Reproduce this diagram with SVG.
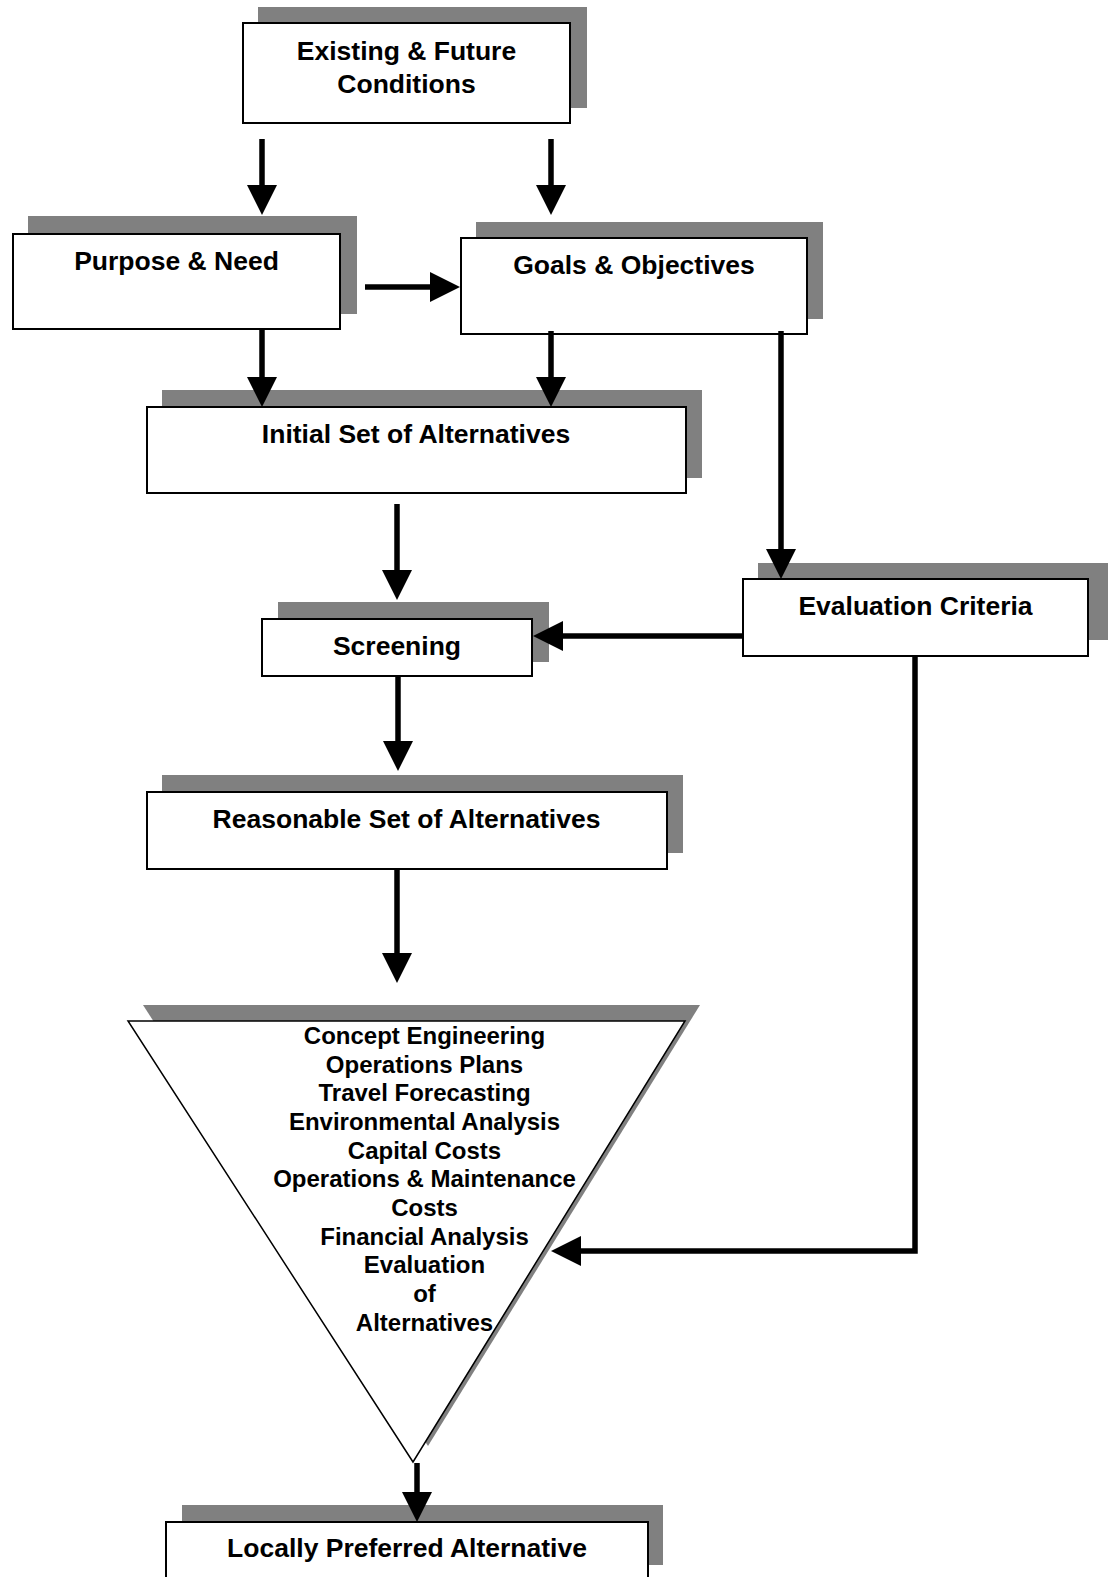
<svg xmlns="http://www.w3.org/2000/svg" width="1108" height="1577" viewBox="0 0 1108 1577">
<style>
.sh{fill:#808080;stroke:none}
.bx{fill:#fff;stroke:#000;stroke-width:2}
.tri{fill:#fff;stroke:#000;stroke-width:1.5}
.lb{font-family:"Liberation Sans",Arial,Helvetica,sans-serif;font-weight:bold;font-size:26.5px;fill:#000;text-anchor:middle}
.tl{font-family:"Liberation Sans",Arial,Helvetica,sans-serif;font-weight:bold;font-size:24px;fill:#000;text-anchor:middle}
.cn{fill:none;stroke:#000;stroke-width:5.5;stroke-linejoin:miter;marker-end:url(#ah)}
</style>
<defs>
<marker id="ah" markerUnits="userSpaceOnUse" markerWidth="31" markerHeight="31" refX="0" refY="15" orient="auto" viewBox="0 0 31 31" overflow="visible">
<path d="M0,0 L30,15 L0,30 Z" fill="#000"/>
</marker>
</defs>
<rect width="1108" height="1577" fill="#fff"/>

<g id="node-existing">
<rect class="sh" x="258" y="7" width="329" height="101"/>
<rect class="bx" x="243" y="23" width="327" height="100"/>
<text class="lb" x="406.5" y="60">Existing &amp; Future</text>
<text class="lb" x="406.5" y="93">Conditions</text>
</g>

<g id="node-purpose">
<rect class="sh" x="28" y="216" width="329" height="98"/>
<rect class="bx" x="13" y="234" width="327" height="95"/>
<text class="lb" x="176.5" y="270">Purpose &amp; Need</text>
</g>

<g id="node-goals">
<rect class="sh" x="476" y="222" width="347" height="97"/>
<rect class="bx" x="461" y="238" width="346" height="96"/>
<text class="lb" x="634" y="274">Goals &amp; Objectives</text>
</g>

<g id="node-initial">
<rect class="sh" x="162" y="390" width="540" height="88"/>
<rect class="bx" x="147" y="407" width="539" height="86"/>
<text class="lb" x="416" y="443">Initial Set of Alternatives</text>
</g>

<g id="node-screening">
<rect class="sh" x="278" y="602" width="271" height="60"/>
<rect class="bx" x="262" y="619" width="270" height="57"/>
<text class="lb" x="397" y="655">Screening</text>
</g>

<g id="node-evaluation">
<rect class="sh" x="758" y="563" width="350" height="77"/>
<rect class="bx" x="743" y="579" width="345" height="77"/>
<text class="lb" x="915.5" y="615">Evaluation Criteria</text>
</g>

<g id="node-reasonable">
<rect class="sh" x="162" y="775" width="521" height="78"/>
<rect class="bx" x="147" y="792" width="520" height="77"/>
<text class="lb" x="406.5" y="828">Reasonable Set of Alternatives</text>
</g>

<g id="node-analysis">
<polygon class="sh" points="143,1005 700,1005 428,1446"/>
<polygon class="tri" points="128,1021 685,1021 413,1462"/>
<text class="tl" x="424.5" y="1044">Concept Engineering</text>
<text class="tl" x="424.5" y="1072.7">Operations Plans</text>
<text class="tl" x="424.5" y="1101.3">Travel Forecasting</text>
<text class="tl" x="424.5" y="1130">Environmental Analysis</text>
<text class="tl" x="424.5" y="1158.6">Capital Costs</text>
<text class="tl" x="424.5" y="1187.3">Operations &amp; Maintenance</text>
<text class="tl" x="424.5" y="1215.9">Costs</text>
<text class="tl" x="424.5" y="1244.6">Financial Analysis</text>
<text class="tl" x="424.5" y="1273.2">Evaluation</text>
<text class="tl" x="424.5" y="1301.9">of</text>
<text class="tl" x="424.5" y="1330.5">Alternatives</text>
</g>

<g id="node-locally">
<rect class="sh" x="182" y="1505" width="481" height="60"/>
<rect class="bx" x="166" y="1522" width="482" height="70"/>
<text class="lb" x="407" y="1557">Locally Preferred Alternative</text>
</g>

<g id="connectors">
<path class="cn" d="M262,139 V185"/>
<path class="cn" d="M551,139 V185"/>
<path class="cn" d="M365,287 H430"/>
<path class="cn" d="M262,330 V377"/>
<path class="cn" d="M551,331 V377"/>
<path class="cn" d="M781,331 V549"/>
<path class="cn" d="M397,504 V570"/>
<path class="cn" d="M742,636 H563"/>
<path class="cn" d="M398,676 V741"/>
<path class="cn" d="M397,869 V953"/>
<path class="cn" d="M915,656 V1251 H581"/>
<path class="cn" d="M417,1463 V1492"/>
</g>
</svg>
